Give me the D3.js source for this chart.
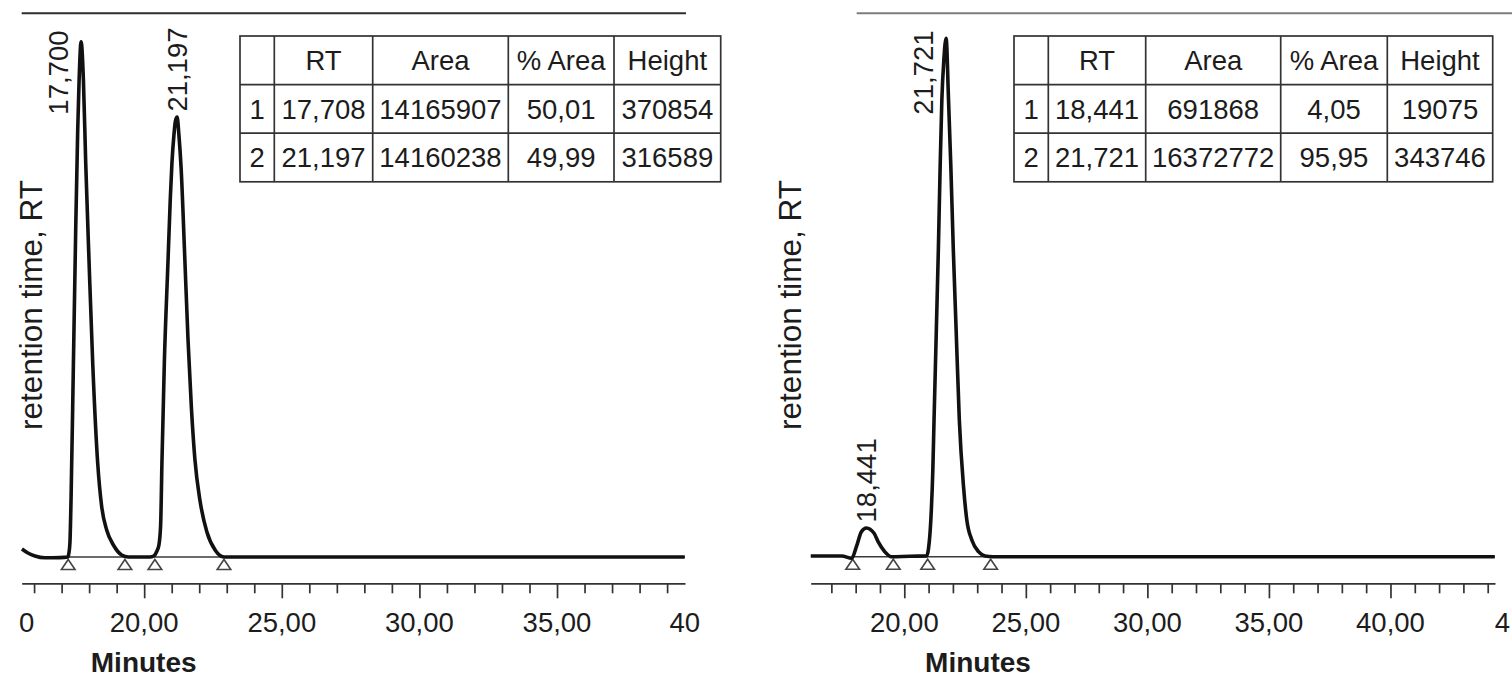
<!DOCTYPE html>
<html>
<head>
<meta charset="utf-8">
<script src="https://cdn.jsdelivr.net/npm/d3@7"></script>
<style>
  html, body { margin: 0; padding: 0; background: #fff; }
  svg { display: block; font-family: "Liberation Sans", Arial, Helvetica, sans-serif; }
</style>
</head>
<body>
<svg id="chart" width="1512" height="676"></svg>
<script>
// ---------- Run A: racemic sample ----------
const timeA = [15.558, 15.776, 16.030, 16.393, 16.938, 17.229,
  17.265, 17.302, 17.345, 17.429, 17.512, 17.585, 17.636, 17.708,
  17.792, 17.876, 17.999, 18.130, 18.311, 18.457, 18.638, 18.882, 19.183, 19.426,
  20.210, 20.347, 20.464, 20.536, 20.598, 20.645, 20.732, 20.863, 20.947, 21.008, 21.081, 21.136, 21.197,
  21.262, 21.343, 21.470, 21.593, 21.717, 21.844, 22.029, 22.276, 22.589, 22.901, 39.640];
const signalA = [5758, 2879, 720, -576, -432, 0,
  2879, 10076, 43398, 139622, 235342, 307312, 343297, 370854,
  343297, 283562, 211592, 139622, 67652, 36201, 19432, 8636, 1439, 0,
  0, 720, 4318, 8636, 23030, 67437, 139406, 211376, 256933, 283346, 303713, 313789, 316589,
  303713, 279600, 218069, 156320, 107018, 70027, 40447, 18208, 4678, 0, 0];
const peakRtA = [17.708, 21.197];
const peakHeightA = [370854, 316589];
const peakLabelA = ["17,700", "21,197"];
const markersA = [17.24, 19.30, 20.39, 22.90];
const rowsA = [
  ["1", "17,708", "14165907", "50,01", "370854"],
  ["2", "21,197", "14160238", "49,99", "316589"]
];
const extentA = [15.55, 39.65];
const majorTicksA = [15, 20, 25, 30, 35, 40];
const tickLabelsA = ["0", "20,00", "25,00", "30,00", "35,00", "40"];
const yMaxA = 391300;

// ---------- Run B: enriched sample ----------
const timeB = [16.151, 17.426, 17.837,
  18.030, 18.235, 18.441, 18.757, 18.922, 19.197, 19.469,
  20.234, 20.921,
  20.998, 21.092, 21.174, 21.224, 21.318, 21.401, 21.475, 21.545, 21.627, 21.721,
  21.820, 21.915, 22.017, 22.133, 22.264, 22.437, 22.572, 22.778, 23.054, 23.325, 23.647, 44.289];
const signalB = [464, 464, -1061,
  6631, 16578, 19075, 15517, 9947, 3316, 0,
  332, 464,
  5570, 24336, 57491, 90646, 150325, 203372, 258609, 302838, 329362, 343746,
  302838, 258609, 203372, 150325, 90646, 46417, 24336, 11074, 3316, 464, 0, 0];
const peakRtB = [18.441, 21.721];
const peakHeightB = [19075, 343746];
const peakLabelB = ["18,441", "21,721"];
const markersB = [17.878, 19.548, 20.962, 23.553];
const rowsB = [
  ["1", "18,441", "691868", "4,05", "19075"],
  ["2", "21,721", "16372772", "95,95", "343746"]
];
const extentB = [16.15, 44.3];
const majorTicksB = [20, 25, 30, 35, 40, 45];
const tickLabelsB = ["20,00", "25,00", "30,00", "35,00", "40,00", "4"];
const yMaxB = 360300;

const tableHeader = ["", "RT", "Area", "% Area", "Height"];
const axisTitle = "Minutes";
const signalTitle = "retention time, RT";

// ---------- layout ----------
const panels = [
  {
    id: "a", time: timeA, signal: signalA, rt: peakRtA, height: peakHeightA, labels: peakLabelA,
    markers: markersA, rows: rowsA, extent: extentA, majors: majorTicksA, tickLabels: tickLabelsA, yMax: yMaxA,
    range: [21.7, 685], yBase: 557, yTop: 13.3, axisY: 583.3,
    frame: [21.7, 686], frameColor: "#2e2e2e",
    labelEdge: [19, 700], titleX: 143.7, signalX: 31,
    tableX: 240, colW: [34.3, 98.4, 135.6, 105.7, 106.7]
  },
  {
    id: "b", time: timeB, signal: signalB, rt: peakRtB, height: peakHeightB, labels: peakLabelB,
    markers: markersB, rows: rowsB, extent: extentB, majors: majorTicksB, tickLabels: tickLabelsB, yMax: yMaxB,
    range: [810.7, 1495], yBase: 556.7, yTop: 13.3, axisY: 583.3,
    frame: [856.7, 1512], frameColor: "#7c7c7c",
    labelEdge: [790, 1510], titleX: 978, signalX: 790,
    tableX: 1014, colW: [34.3, 97.4, 135, 106.6, 105.4]
  }
];

const ink = "#1c1c1c";
const fontSize = 27.5;
const tableTop = 36, rowH = 48.6;

const svg = d3.select("#chart");

panels.forEach(p => {
  const g = svg.append("g").attr("class", "panel-" + p.id);

  const x = d3.scaleLinear().domain(p.extent).range(p.range);
  const y = d3.scaleLinear().domain([0, p.yMax]).range([p.yBase, p.yTop]);

  // frame line along the top
  g.append("line")
    .attr("x1", p.frame[0]).attr("x2", p.frame[1])
    .attr("y1", p.yTop).attr("y2", p.yTop)
    .attr("stroke", p.frameColor).attr("stroke-width", 2);

  // time axis: minor ticks every minute, major ticks every five
  const minors = d3.range(Math.ceil(p.extent[0]), Math.floor(p.extent[1]) + 1).filter(v => v % 5 !== 0);
  const inside = v => v >= p.extent[0] && v <= p.extent[1];
  const axisG = g.append("g").attr("transform", `translate(0,${p.axisY})`);

  axisG.append("g")
    .call(d3.axisBottom(x).tickValues(minors).tickSizeInner(10).tickSizeOuter(0).tickFormat(""))
    .call(a => a.select(".domain").attr("stroke", "#333").attr("stroke-width", 1.7))
    .call(a => a.selectAll(".tick line").attr("stroke", "#333").attr("stroke-width", 1.7));

  axisG.append("g")
    .call(d3.axisBottom(x).tickValues(p.majors.filter(inside)).tickSizeInner(15).tickSizeOuter(0).tickFormat(""))
    .call(a => a.select(".domain").remove())
    .call(a => a.selectAll(".tick line").attr("stroke", "#333").attr("stroke-width", 1.7));

  // tick labels; labels of ticks past the axis ends are pinned to the panel edge
  g.append("g")
    .selectAll("text").data(p.majors).join("text")
    .attr("x", v => v < p.extent[0] ? p.labelEdge[0] : v > p.extent[1] ? p.labelEdge[1] : x(v))
    .attr("text-anchor", v => v < p.extent[0] ? "start" : v > p.extent[1] ? "end" : "middle")
    .attr("y", 631.7)
    .attr("font-size", fontSize)
    .attr("fill", ink)
    .text((v, i) => p.tickLabels[i]);

  g.append("text")
    .attr("x", p.titleX).attr("y", 671.5)
    .attr("text-anchor", "middle")
    .attr("font-size", 28).attr("font-weight", "bold")
    .attr("fill", ink)
    .text(axisTitle);

  g.append("text")
    .attr("transform", `translate(${p.signalX},305) rotate(-90)`)
    .attr("dy", "0.35em")
    .attr("text-anchor", "middle")
    .attr("font-size", 31.5)
    .attr("fill", ink)
    .text(signalTitle);

  // integration baseline and peak start/end markers
  g.append("line")
    .attr("x1", x(p.markers[0])).attr("x2", x(p.extent[1]))
    .attr("y1", y(0)).attr("y2", y(0))
    .attr("stroke", "#3a3a3a").attr("stroke-width", 1.4);

  g.selectAll("path.marker").data(p.markers).join("path")
    .attr("class", "marker")
    .attr("d", t => {
      const cx = x(t), top = y(0) + 2.5, bot = y(0) + 12.5;
      return `M${cx},${top}L${cx + 6.8},${bot}L${cx - 6.8},${bot}Z`;
    })
    .attr("fill", "#fff").attr("stroke", "#444").attr("stroke-width", 1.6);

  // detector trace
  const pts = p.time.map((t, i) => [t, p.signal[i]]);
  g.append("path")
    .datum(pts)
    .attr("fill", "none")
    .attr("stroke", "#111")
    .attr("stroke-width", 3.6)
    .attr("stroke-linejoin", "round")
    .attr("d", d3.line().x(d => x(d[0])).y(d => y(d[1])).curve(d3.curveMonotoneX));

  // retention-time labels above each apex
  p.rt.forEach((rt, i) => {
    const ax = x(rt), ay = y(p.height[i]);
    const t = g.append("text")
      .attr("font-size", fontSize).attr("fill", ink)
      .attr("dy", "0.35em")
      .text(p.labels[i]);
    const len = t.node().getComputedTextLength();
    if (ay - 5.5 - len < 24) {
      t.attr("text-anchor", "end").attr("transform", `translate(${ax - 23},30.5) rotate(-90)`);
    } else {
      t.attr("text-anchor", "start").attr("transform", `translate(${ax},${ay - 5.5}) rotate(-90)`);
    }
  });

  // peak table
  const tg = g.append("g").attr("transform", `translate(${p.tableX},${tableTop})`);
  const colX = [0];
  p.colW.forEach(w => colX.push(colX[colX.length - 1] + w));
  const tableW = colX[colX.length - 1];
  const allRows = [tableHeader].concat(p.rows);
  const tableH = rowH * allRows.length;

  tg.append("rect").attr("width", tableW).attr("height", tableH)
    .attr("fill", "#fff").attr("stroke", "#333").attr("stroke-width", 1.7);
  tg.selectAll("line.col").data(colX.slice(1, -1)).join("line")
    .attr("class", "col")
    .attr("x1", d => d).attr("x2", d => d).attr("y1", 0).attr("y2", tableH)
    .attr("stroke", "#333").attr("stroke-width", 1.7);
  tg.selectAll("line.row").data(d3.range(1, allRows.length)).join("line")
    .attr("class", "row")
    .attr("x1", 0).attr("x2", tableW).attr("y1", r => r * rowH).attr("y2", r => r * rowH)
    .attr("stroke", "#333").attr("stroke-width", 1.7);

  allRows.forEach((row, r) => {
    row.forEach((cell, c) => {
      tg.append("text")
        .attr("x", (colX[c] + colX[c + 1]) / 2)
        .attr("y", r * rowH + rowH / 2)
        .attr("dy", "0.36em")
        .attr("text-anchor", "middle")
        .attr("font-size", fontSize)
        .attr("fill", ink)
        .text(cell);
    });
  });
});
</script>
</body>
</html>
